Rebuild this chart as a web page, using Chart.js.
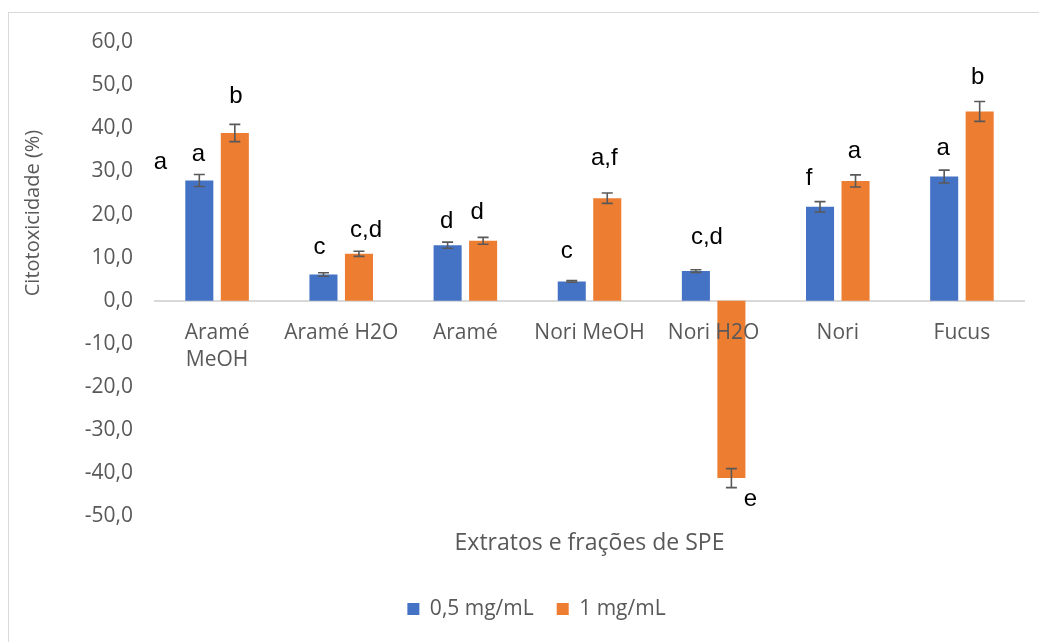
<!DOCTYPE html>
<html><head><meta charset="utf-8">
<script src="https://cdn.jsdelivr.net/npm/chart.js@4.4.0/dist/chart.umd.min.js"></script>
<style>
html,body{margin:0;padding:0;background:#fff;overflow:hidden;width:1039px;height:642px;}
#frame{position:absolute;left:8px;top:12px;width:1200px;height:800px;border:1px solid #d9d9d9;box-sizing:border-box;}
canvas{position:absolute;left:0;top:0;}
</style></head><body>
<div id="frame"></div>
<canvas id="c" width="1039" height="642"></canvas>
<script>
// ---- data ----
const categories = [['Aramé','MeOH'], 'Aramé H2O', 'Aramé', 'Nori MeOH', 'Nori H2O', 'Nori', 'Fucus'];
const seriesNames = ['0,5 mg/mL', '1 mg/mL'];
const values05 = [27.9, 6.1, 12.9, 4.5, 6.9, 21.8, 28.8];
const values1  = [38.9, 10.9, 13.9, 23.8, -41.1, 27.8, 43.9];
const errors05 = [1.4, 0.4, 0.7, 0.2, 0.3, 1.2, 1.5];
const errors1  = [2.0, 0.6, 0.8, 1.2, 2.2, 1.4, 2.3];
const yMin = -50, yMax = 60, yStep = 10;
const axisTitleX = 'Extratos e frações de SPE';
const axisTitleY = 'Citotoxicidade (%)';
// significance letters: series, category index, text, value-position (y units)
const letterSeries = [0, 0, 1, 0, 1, 0, 1, 0, 1, 0, 1, 0, 1, 0, 1];
const letterIndex  = [0, 0, 0, 1, 1, 2, 2, 3, 3, 4, 4, 5, 5, 6, 6];
const letterText   = ['a','a','b','c','c,d','d','d','c','a,f','c,d','e','f','a','a','b'];
const letterValue  = [32.0, 34.0, 47.3, 12.3, 16.4, 18.4, 20.4, 11.4, 33.0, 14.8, -46.1, 28.4, 34.6, 35.4, 51.9];
const letterShift  = [-39, -1, 1, -4, 7, -1, -6, -5, -3, 11, 19, -11, -1, -1, -2];

const BLUE = '#4472C4', ORANGE = '#ED7D31', GREY = '#595959';
const errorsBySeries = [errors05, errors1];

const errorBars = {
  id: 'errorBars',
  afterDatasetsDraw(chart) {
    const ctx = chart.ctx, y = chart.scales.y;
    ctx.save();
    ctx.strokeStyle = GREY; ctx.lineWidth = 1.6;
    chart.data.datasets.forEach((ds, di) => {
      const meta = chart.getDatasetMeta(di);
      meta.data.forEach((el, i) => {
        const v = ds.data[i], e = errorsBySeries[di][i];
        const y1 = y.getPixelForValue(v + e), y2 = y.getPixelForValue(v - e);
        ctx.beginPath();
        ctx.moveTo(el.x, y1); ctx.lineTo(el.x, y2);
        ctx.moveTo(el.x - 5.5, y1); ctx.lineTo(el.x + 5.5, y1);
        ctx.moveTo(el.x - 5.5, y2); ctx.lineTo(el.x + 5.5, y2);
        ctx.stroke();
      });
    });
    ctx.restore();
  }
};

const letters = {
  id: 'letters',
  afterDatasetsDraw(chart) {
    const ctx = chart.ctx, y = chart.scales.y;
    ctx.save();
    ctx.fillStyle = '#000';
    ctx.font = '24px "Liberation Sans", Arial, sans-serif';
    ctx.textAlign = 'center'; ctx.textBaseline = 'middle';
    letterText.forEach((t, k) => {
      const el = chart.getDatasetMeta(letterSeries[k]).data[letterIndex[k]];
      ctx.fillText(t, el.x + letterShift[k], y.getPixelForValue(letterValue[k]));
    });
    ctx.restore();
  }
};

const yTitle = {
  id: 'yTitle',
  afterDraw(chart) {
    const ctx = chart.ctx;
    ctx.save();
    ctx.fillStyle = GREY;
    ctx.font = '20px "Open Sans", sans-serif';
    ctx.textAlign = 'center'; ctx.textBaseline = 'middle';
    ctx.translate(33, 213);
    ctx.rotate(-Math.PI / 2);
    ctx.fillText(axisTitleY, 0, 0);
    ctx.restore();
  }
};

Chart.defaults.font.family = '"Open Sans", sans-serif';
Chart.defaults.color = GREY;

new Chart(document.getElementById('c'), {
  type: 'bar',
  data: {
    labels: categories,
    datasets: [
      { label: seriesNames[0], data: values05, backgroundColor: BLUE, xAxisID: 'x' },
      { label: seriesNames[1], data: values1, backgroundColor: ORANGE, xAxisID: 'x' }
    ]
  },
  options: {
    responsive: false,
    animation: false,
    devicePixelRatio: 1,
    categoryPercentage: 0.572,
    barPercentage: 0.79,
    layout: { padding: { left: 49, right: 15, top: 42, bottom: 12.5 } },
    plugins: {
      tooltip: { enabled: false },
      legend: {
        position: 'bottom',
        labels: { boxWidth: 12, boxHeight: 12, padding: 23, color: GREY,
                  font: { size: 21, family: '"Open Sans", sans-serif' } }
      }
    },
    scales: {
      x: {
        type: 'category',
        position: { y: 0 },
        grid: { display: false, drawTicks: false },
        border: { display: true, color: '#d9d9d9', width: 2 },
        ticks: { z: 1, padding: 18.4, color: GREY, font: { size: 21, lineHeight: 1.3 }, maxRotation: 0, autoSkip: false }
      },
      x2: {
        type: 'category',
        labels: categories,
        position: 'bottom',
        grid: { display: false, drawTicks: false },
        border: { display: false },
        ticks: { display: false },
        title: { display: true, text: axisTitleX, color: GREY, font: { size: 23 },
                 padding: { top: 12.7, bottom: 18.7 } }
      },
      y: {
        min: yMin, max: yMax,
        grid: { display: false, drawTicks: false },
        border: { display: false },
        ticks: { stepSize: yStep, padding: 22, color: GREY, font: { size: 21 },
                 callback: v => v.toFixed(1).replace('.', ',') },
        afterFit(s) { s.width = 106; }
      }
    }
  },
  plugins: [errorBars, letters, yTitle]
});
</script>
</body></html>
